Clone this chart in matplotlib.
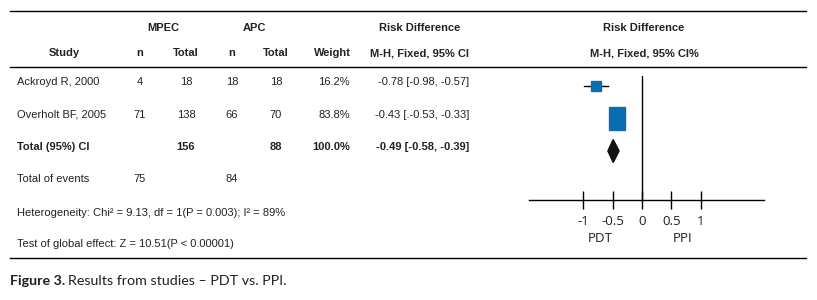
import matplotlib.pyplot as plt
from matplotlib.patches import Rectangle, Polygon

# data
studies = ['Ackroyd R, 2000', 'Overholt BF, 2005']
mpec_n = [4, 71]
mpec_total = [18, 138]
apc_n = [18, 66]
apc_total = [18, 70]
weights = [16.2, 83.8]
rd = [-0.78, -0.43]
ci_lo = [-0.98, -0.53]
ci_hi = [-0.57, -0.33]
rd_labels = ['-0.78 [-0.98, -0.57]', '-0.43 [.-0.53, -0.33]']

pooled_rd = -0.49
pooled_lo = -0.58
pooled_hi = -0.39
pooled_label = '-0.49 [-0.58, -0.39]'
total_mpec = 156
total_apc = 88
events_mpec = 75
events_apc = 84
heterogeneity = 'Heterogeneity: Chi\u00b2 = 9.13, df = 1(P = 0.003); I\u00b2 = 89%'
overall_test = 'Test of global effect: Z = 10.51(P < 0.00001)'
ticks = [-1, -0.5, 0, 0.5, 1]
tick_labels = ['-1', '-0.5', '0', '0.5', '1']

TXT = ['Liberation Sans', 'DejaVu Sans']
AXF = ['Open Sans', 'DejaVu Sans']
CAPF = ['Lato', 'DejaVu Sans']
BLUE = '#0a6db4'
INK = '#222222'
fs = 8.0

fig = plt.figure(figsize=(8.17, 3.0), dpi=100)
bg = fig.add_axes([0, 0, 1, 1])
bg.set_xlim(0, 817)
bg.set_ylim(300, 0)
bg.axis('off')

# horizontal rules
for yy in (11, 67, 258):
    bg.plot([10, 806], [yy, yy], color='black', lw=1.0)

def t(x, y, s, ha='center', bold=False, **kw):
    bg.text(x, y, s, ha=ha, va='center', fontsize=fs, family=TXT, color=INK,
            fontweight='bold' if bold else 'normal', **kw)

# headers
t(163, 28, 'MPEC', bold=True)
t(254, 28, 'APC', bold=True)
t(420, 28, 'Risk Difference', bold=True)
t(644, 28, 'Risk Difference', bold=True)
t(64, 53, 'Study', bold=True)
t(140, 53, 'n', bold=True)
t(186, 53, 'Total', bold=True)
t(232, 53, 'n', bold=True)
t(276, 53, 'Total', bold=True)
t(332, 53, 'Weight', bold=True)
t(420, 53, 'M-H, Fixed, 95% CI', bold=True)
t(644, 53, 'M-H, Fixed, 95% CI%', bold=True)

row0, step = 82, 32.5
for i, name in enumerate(studies):
    y = row0 + i * step
    t(17, y, name, ha='left')
    t(140, y, str(mpec_n[i]))
    t(186, y, str(mpec_total[i]))
    t(232, y, str(apc_n[i]))
    t(276, y, str(apc_total[i]))
    t(350, y, f'{weights[i]:.1f}%', ha='right')
    t(469, y, rd_labels[i], ha='right')

y = row0 + 2 * step
t(17, y, 'Total (95%) CI', ha='left', bold=True)
t(186, y, str(total_mpec), bold=True)
t(276, y, str(total_apc), bold=True)
t(350, y, f'{sum(weights):.1f}%', ha='right', bold=True)
t(469, y, pooled_label, ha='right', bold=True)

t(17, 179, 'Total of events', ha='left')
t(140, 179, str(events_mpec))
t(232, 179, str(events_apc))
t(17, 213, heterogeneity, ha='left')
t(17, 244, overall_test, ha='left')

# forest plot axes: 0 at x=642 px, 58.8 px per unit
px_unit = 58.8
fx = fig.add_axes([529 / 817, 100 / 300, 235 / 817, 124 / 300])
fx.set_xlim(-(642 - 529) / px_unit, (764 - 642) / px_unit)
fx.set_ylim(200, 76)
fx.patch.set_alpha(0)
for s in ('top', 'right', 'left'):
    fx.spines[s].set_visible(False)
fx.spines['bottom'].set_linewidth(1.0)
fx.set_yticks([])
fx.set_xticks(ticks)
fx.set_xticklabels(tick_labels, family=AXF, fontsize=9.6, color=INK)
fx.tick_params(axis='x', direction='inout', length=13.5, width=1.0, pad=4)
fx.axvline(0, color='black', lw=1.0)

mark_off = 4
for i in range(len(studies)):
    y = row0 + i * step + mark_off
    fx.plot([ci_lo[i], ci_hi[i]], [y, y], color='black', lw=1.0)
    h = 2.5 * weights[i] ** 0.5
    w = min(h, 16) / px_unit
    fx.add_patch(Rectangle((rd[i] - w / 2, y - h / 2), w, h, color=BLUE, zorder=3))

y = row0 + 2 * step + mark_off
fx.add_patch(Polygon([(pooled_lo, y), (pooled_rd, y - 11.5), (pooled_hi, y),
                      (pooled_rd, y + 11.5)], closed=True, color='#111111'))

bg.text(600, 238, 'PDT', ha='center', va='center', family=AXF, fontsize=9.6, color=INK)
bg.text(683, 238, 'PPI', ha='center', va='center', family=AXF, fontsize=9.6, color=INK)

# caption
cap1 = bg.text(10, 281, 'Figure 3.', ha='left', va='center', family=CAPF,
               fontsize=10.3, fontweight='bold', color='#231f20')
fig.canvas.draw()
bb = cap1.get_window_extent(fig.canvas.get_renderer())
x_end = bg.transData.inverted().transform((bb.x1, bb.y0))[0]
bg.text(x_end + 3, 281, 'Results from studies \u2013 PDT vs. PPI.', ha='left', va='center',
        family=CAPF, fontsize=10.3, color='#231f20')

fig.savefig('out.png', dpi=100)
